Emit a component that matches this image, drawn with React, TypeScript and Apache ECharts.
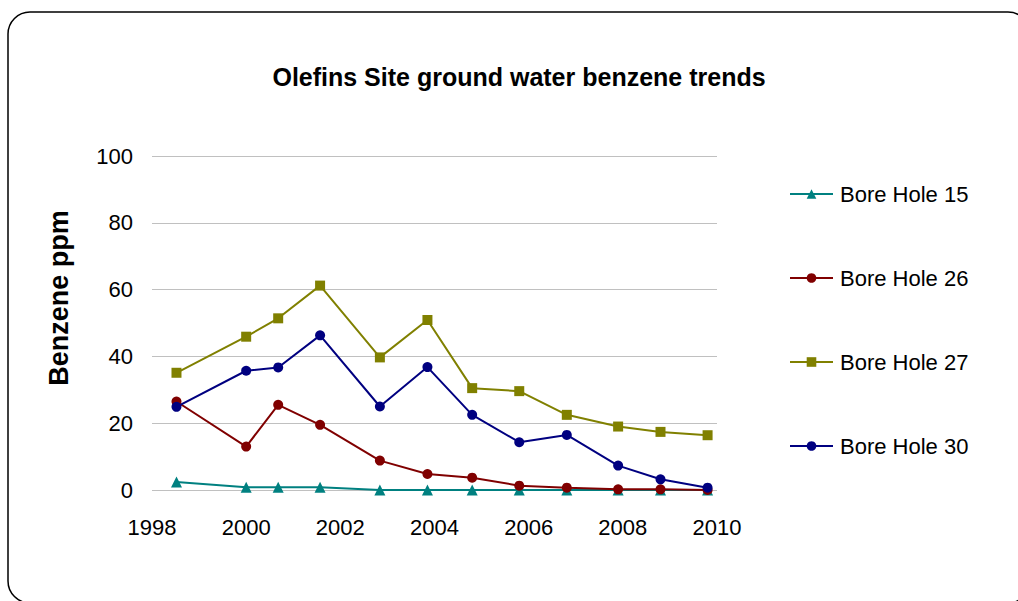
import React, { useEffect, useRef } from "react";
import * as echarts from "echarts";

const sampleYears = [1998.52, 2000.0, 2000.68, 2001.57, 2002.84, 2003.85, 2004.8, 2005.8, 2006.81, 2007.9, 2008.8, 2009.8];
const seriesNames = ["Bore Hole 15", "Bore Hole 26", "Bore Hole 27", "Bore Hole 30"];
const bh15 = [2.4, 0.8, 0.8, 0.8, 0, 0, 0, 0, 0, 0, 0, 0];
const bh26 = [26.5, 13.0, 25.5, 19.5, 8.8, 4.8, 3.7, 1.3, 0.7, 0.2, 0.2, 0];
const bh27 = [35.1, 45.9, 51.4, 61.2, 39.7, 50.9, 30.5, 29.6, 22.5, 19.0, 17.4, 16.4];
const bh30 = [24.9, 35.7, 36.7, 46.3, 25.0, 36.8, 22.5, 14.3, 16.5, 7.3, 3.2, 0.7];
const seriesColors = ["#008080", "#800000", "#808000", "#000080"];
const seriesSymbols = ["triangle", "circle", "rect", "circle"];
const symbolSizes = [11, 10, 10, 10];
const xRange = [1998, 2010, 2];
const yRange = [0, 100, 20];

const FONT = "'Liberation Sans', Arial, sans-serif";

export default function App() {
  const ref = useRef<HTMLDivElement>(null);
  useEffect(() => {
    if (!ref.current) return;
    const chart = echarts.init(ref.current, null, { renderer: "svg" });
    const values = [bh15, bh26, bh27, bh30];
    chart.setOption({
      animation: false,
      backgroundColor: "#ffffff",
      textStyle: { fontFamily: FONT, color: "#000" },
      title: {
        text: "Olefins Site ground water benzene trends",
        left: 519,
        top: 64,
        textAlign: "center",
        padding: 0,
        textStyle: { fontFamily: FONT, fontSize: 25, fontWeight: "bold", color: "#000" },
      },
      graphic: [
        {
          type: "rect",
          shape: { x: 8, y: 12, width: 1022, height: 591, r: 22 },
          style: { fill: "none", stroke: "#000", lineWidth: 1.5 },
          silent: true,
        },
      ],
      grid: { left: 152, right: 301, top: 156, bottom: 111 },
      legend: {
        orient: "vertical",
        left: 789,
        top: 183,
        itemWidth: 43,
        itemHeight: 12,
        itemGap: 62,
        padding: 0,
        textStyle: { fontFamily: FONT, fontSize: 22, color: "#000", lineHeight: 22, padding: [0, 0, 0, 2] },
        data: seriesNames,
      },
      xAxis: {
        type: "value",
        min: xRange[0],
        max: xRange[1],
        interval: xRange[2],
        axisLine: { show: false },
        axisTick: { show: false },
        splitLine: { show: false },
        axisLabel: {
          fontFamily: FONT,
          fontSize: 22,
          color: "#000",
          margin: 26,
          formatter: (v: number) => String(v),
        },
      },
      yAxis: {
        type: "value",
        min: yRange[0],
        max: yRange[1],
        interval: yRange[2],
        name: "Benzene ppm",
        nameLocation: "middle",
        nameGap: 80,
        nameTextStyle: {
          fontFamily: FONT,
          fontSize: 27,
          fontWeight: "bold",
          color: "#000",
          padding: [0, 0, 0, 50],
        },
        axisLine: { show: false },
        axisTick: { show: false },
        splitLine: { lineStyle: { color: "#c0c0c0", width: 1 } },
        axisLabel: { fontFamily: FONT, fontSize: 22, color: "#000", margin: 19 },
      },
      series: seriesNames.map((name, i) => ({
        name,
        type: "line",
        data: sampleYears.map((x, j) => [x, values[i][j]]),
        symbol: seriesSymbols[i],
        symbolSize: symbolSizes[i],
        showAllSymbol: true,
        lineStyle: { color: seriesColors[i], width: 2 },
        itemStyle: { color: seriesColors[i] },
        emphasis: { disabled: true },
      })),
    });
    return () => chart.dispose();
  }, []);
  return <div ref={ref} style={{ position: "absolute", left: 0, top: 0, width: 1018, height: 601 }} />;
}
